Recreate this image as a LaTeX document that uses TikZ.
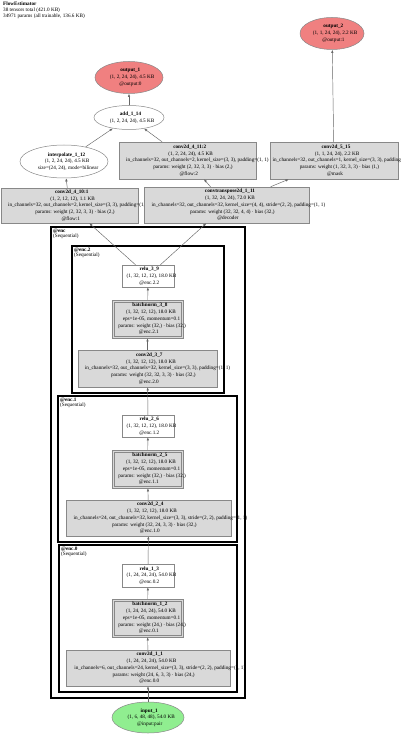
\documentclass[tikz,border=0pt]{standalone}
\usepackage{fontspec}
\setmainfont{Liberation Serif}
\usetikzlibrary{arrows.meta,shapes.geometric}
\newsavebox\glbox
\newcommand\gl[1]{\sbox\glbox{#1}\hbox{\kern0.138\wd\glbox\usebox\glbox}}
\definecolor{boxgray}{HTML}{D9D9D9}
\definecolor{bordergray}{HTML}{888888}
\definecolor{coral}{HTML}{F08080}
\definecolor{lgreen}{HTML}{90EE90}
\begin{document}
\begin{tikzpicture}[x=1pt,y=-1pt,font=\fontsize{5.2}{6.7}\selectfont,
  box/.style={draw=bordergray, fill=boxgray, line width=0.5pt, inner sep=0pt, rectangle},
  wbox/.style={draw=bordergray, fill=white, line width=0.5pt, inner sep=0pt, rectangle},
  ell/.style={ellipse, draw=bordergray, line width=0.5pt, inner sep=0pt},
  txt/.style={align=center, inner sep=0pt},
  edge/.style={draw=gray!80!black, line width=0.45pt, -{Latex[length=3.2pt,width=2.4pt]}},
  clus/.style={draw=black, line width=1.1pt},
  clab/.style={align=left, inner sep=0pt, anchor=north west, font=\fontsize{5.2}{5.8}\selectfont}]
\fill[white] (0,0) rectangle (400,735);
\useasboundingbox (0,0) rectangle (400,735);

% title
\node[align=left, inner sep=0pt, anchor=north west, font=\fontsize{5.2}{5.8}\selectfont] (title) at (3,2)
  {\textbf{FlowEstimator}\\38 tensors total (421.0 KB)\\34971 params (all trainable, 136.6 KB)};

% clusters
\draw[clus, line width=1.7pt] (51,227) rectangle (245,698);
\node[clab] (lenc) at (53,228.5) {\textbf{@enc}\\(Sequential)};
\draw[clus] (72,246) rectangle (224,393);
\node[clab] (lenc2) at (74,247.5) {\textbf{@enc.2}\\(Sequential)};
\draw[clus] (58,396) rectangle (237,542);
\node[clab] (lenc1) at (60,397.5) {\textbf{@enc.1}\\(Sequential)};
\draw[clus] (59,545) rectangle (237,692);
\node[clab] (lenc0) at (61,546.5) {\textbf{@enc.0}\\(Sequential)};

% outputs
\node[ell, fill=coral, minimum width=64pt, minimum height=32pt] (out2) at (332,33.5) {};
\node[txt] (out2t) at (out2) {\gl{\textbf{output\_2}}\\\gl{(1, 1, 24, 24), 2.2 KB}\\\gl{@output:1}};
\node[ell, fill=coral, minimum width=68pt, minimum height=32pt] (out1) at (129,77.5) {};
\node[txt] (out1t) at (out1) {\gl{\textbf{output\_1}}\\\gl{(1, 2, 24, 24), 4.5 KB}\\\gl{@output:0}};
\node[ell, fill=white, minimum width=70pt, minimum height=24pt] (add) at (129,117.5) {};
\node[txt] (addt) at (add) {\gl{\textbf{add\_1\_14}}\\\gl{(1, 2, 24, 24), 4.5 KB}};
\node[ell, fill=white, minimum width=88pt, minimum height=33pt] (interp) at (64,161.5) {};
\node[txt] (interpt) at (interp) {\gl{\textbf{interpolate\_1\_12}}\\\gl{(1, 2, 24, 24), 4.5 KB}\\\gl{size=(24, 24), mode=bilinear}};

% decoder heads
\node[box, minimum width=137pt, minimum height=37pt] (c411) at (187.5,160.5) {};
\node[txt] (c411t) at (c411) {\gl{\textbf{conv2d\_4\_11:2}}\\\gl{(1, 2, 24, 24), 4.5 KB}\\\gl{in\_channels=32, out\_channels=2, kernel\_size=(3, 3), padding=(1, 1)}\\\gl{params: weight (2, 32, 3, 3) · bias (2,)}\\\gl{@flow:2}};
\node[box, minimum width=128pt, minimum height=37pt] (c515) at (334,160.5) {};
\node[txt] (c515t) at (c515) {\gl{\textbf{conv2d\_5\_15}}\\\gl{(1, 1, 24, 24), 2.2 KB}\\\gl{in\_channels=32, out\_channels=1, kernel\_size=(3, 3), padding=(1, 1)}\\\gl{params: weight (1, 32, 3, 3) · bias (1,)}\\\gl{@mask}};
\node[box, minimum width=137pt, minimum height=35pt] (c410) at (69.5,205.5) {};
\node[txt] (c410t) at (c410) {\gl{\textbf{conv2d\_4\_10:1}}\\\gl{(1, 2, 12, 12), 1.1 KB}\\\gl{in\_channels=32, out\_channels=2, kernel\_size=(3, 3), padding=(1, 1)}\\\gl{params: weight (2, 32, 3, 3) · bias (2,)}\\\gl{@flow:1}};
\node[box, minimum width=165pt, minimum height=36pt] (ct) at (226.5,205) {};
\node[txt] (ctt) at (ct) {\gl{\textbf{convtranspose2d\_1\_11}}\\\gl{(1, 32, 24, 24), 72.0 KB}\\\gl{in\_channels=32, out\_channels=32, kernel\_size=(4, 4), stride=(2, 2), padding=(1, 1)}\\\gl{params: weight (32, 32, 4, 4) · bias (32,)}\\\gl{@decoder}};

% enc.2
\node[wbox, minimum width=52pt, minimum height=22pt] (r39) at (148,276) {};
\node[txt] (r39t) at (r39) {\gl{\textbf{relu\_3\_9}}\\\gl{(1, 32, 12, 12), 18.0 KB}\\\gl{@enc.2.2}};
\node[box, minimum width=71pt, minimum height=38pt] (bn38) at (147.5,319) {};
\draw[draw=bordergray, line width=0.5pt] ([shift={(2,2)}]bn38.north west) rectangle ([shift={(-2,-2)}]bn38.south east);
\node[txt] (bn38t) at (bn38) {\gl{\textbf{batchnorm\_3\_8}}\\\gl{(1, 32, 12, 12), 18.0 KB}\\\gl{eps=1e-05, momentum=0.1}\\\gl{params: weight (32,) · bias (32,)}\\\gl{@enc.2.1}};
\node[box, minimum width=139pt, minimum height=37pt] (c37) at (147.5,368.5) {};
\node[txt] (c37t) at (c37) {\gl{\textbf{conv2d\_3\_7}}\\\gl{(1, 32, 12, 12), 18.0 KB}\\\gl{in\_channels=32, out\_channels=32, kernel\_size=(3, 3), padding=(1, 1)}\\\gl{params: weight (32, 32, 3, 3) · bias (32,)}\\\gl{@enc.2.0}};

% enc.1
\node[wbox, minimum width=52pt, minimum height=22pt] (r26) at (148,426) {};
\node[txt] (r26t) at (r26) {\gl{\textbf{relu\_2\_6}}\\\gl{(1, 32, 12, 12), 18.0 KB}\\\gl{@enc.1.2}};
\node[box, minimum width=71pt, minimum height=38pt] (bn25) at (147.5,469) {};
\draw[draw=bordergray, line width=0.5pt] ([shift={(2,2)}]bn25.north west) rectangle ([shift={(-2,-2)}]bn25.south east);
\node[txt] (bn25t) at (bn25) {\gl{\textbf{batchnorm\_2\_5}}\\\gl{(1, 32, 12, 12), 18.0 KB}\\\gl{eps=1e-05, momentum=0.1}\\\gl{params: weight (32,) · bias (32,)}\\\gl{@enc.1.1}};
\node[box, minimum width=165pt, minimum height=36pt] (c24) at (148.5,518) {};
\node[txt] (c24t) at (c24) {\gl{\textbf{conv2d\_2\_4}}\\\gl{(1, 32, 12, 12), 18.0 KB}\\\gl{in\_channels=24, out\_channels=32, kernel\_size=(3, 3), stride=(2, 2), padding=(1, 1)}\\\gl{params: weight (32, 24, 3, 3) · bias (32,)}\\\gl{@enc.1.0}};

% enc.0
\node[wbox, minimum width=52pt, minimum height=23pt] (r13) at (148,575.5) {};
\node[txt] (r13t) at (r13) {\gl{\textbf{relu\_1\_3}}\\\gl{(1, 24, 24, 24), 54.0 KB}\\\gl{@enc.0.2}};
\node[box, minimum width=71pt, minimum height=38pt] (bn12) at (147.5,618) {};
\draw[draw=bordergray, line width=0.5pt] ([shift={(2,2)}]bn12.north west) rectangle ([shift={(-2,-2)}]bn12.south east);
\node[txt] (bn12t) at (bn12) {\gl{\textbf{batchnorm\_1\_2}}\\\gl{(1, 24, 24, 24), 54.0 KB}\\\gl{eps=1e-05, momentum=0.1}\\\gl{params: weight (24,) · bias (24,)}\\\gl{@enc.0.1}};
\node[box, minimum width=164pt, minimum height=36pt] (c11) at (148,668) {};
\node[txt] (c11t) at (c11) {\gl{\textbf{conv2d\_1\_1}}\\\gl{(1, 24, 24, 24), 54.0 KB}\\\gl{in\_channels=6, out\_channels=24, kernel\_size=(3, 3), stride=(2, 2), padding=(1, 1)}\\\gl{params: weight (24, 6, 3, 3) · bias (24,)}\\\gl{@enc.0.0}};

% input
\node[ell, fill=lgreen, minimum width=72pt, minimum height=31pt] (inp) at (148,717.5) {};
\node[txt] (inpt) at (inp) {\gl{\textbf{input\_1}}\\\gl{(1, 6, 48, 48), 54.0 KB}\\\gl{@input:pair}};

% edges
\draw[edge] (inp) -- (c11);
\draw[edge] (c11) -- (bn12);
\draw[edge] (bn12) -- (r13);
\draw[edge] (r13) -- (c24);
\draw[edge] (c24) -- (bn25);
\draw[edge] (bn25) -- (r26);
\draw[edge] (r26) -- (c37);
\draw[edge] (c37) -- (bn38);
\draw[edge] (bn38) -- (r39);
\draw[edge] (r39) -- (c410);
\draw[edge] (r39) -- (ct);
\draw[edge] (c410) -- (interp);
\draw[edge] (ct) -- (c411);
\draw[edge] (ct) -- (c515);
\draw[edge] (interp) -- (add);
\draw[edge] (c411) -- (add);
\draw[edge] (add) -- (out1);
\draw[edge] (c515) -- (out2);
\end{tikzpicture}
\end{document}
